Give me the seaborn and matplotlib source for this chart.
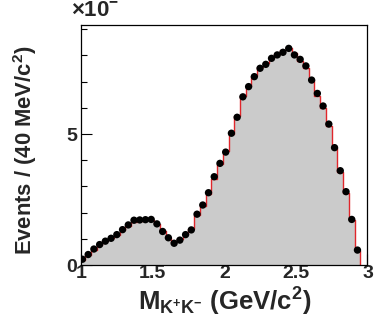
import numpy as np
import pandas as pd
import matplotlib
matplotlib.use("Agg")
import matplotlib.pyplot as plt
from matplotlib.ticker import MultipleLocator
import seaborn as sns

# Bin centres of the K+K- invariant mass (GeV/c^2), 40 MeV bins
mass = [1.01, 1.05, 1.09, 1.13, 1.17, 1.21, 1.25, 1.29, 1.33, 1.37,
        1.41, 1.45, 1.49, 1.53, 1.57, 1.61, 1.65, 1.69, 1.73, 1.77,
        1.81, 1.85, 1.89, 1.93, 1.97, 2.01, 2.05, 2.09, 2.13, 2.17,
        2.21, 2.25, 2.29, 2.33, 2.37, 2.41, 2.45, 2.49, 2.53, 2.57,
        2.61, 2.65, 2.69, 2.73, 2.77, 2.81, 2.85, 2.89, 2.93]

# Measured events per bin (in units of the axis multiplier)
events = [0.22, 0.40, 0.61, 0.78, 0.91, 1.02, 1.16, 1.35, 1.53, 1.71,
          1.72, 1.73, 1.74, 1.57, 1.28, 1.04, 0.83, 0.95, 1.16, 1.34,
          1.94, 2.29, 2.76, 3.37, 3.88, 4.31, 5.03, 5.64, 6.42, 6.81,
          7.19, 7.51, 7.66, 7.89, 8.02, 8.12, 8.27, 8.02, 7.85, 7.60,
          7.06, 6.55, 6.07, 5.38, 4.48, 3.60, 2.80, 1.74, 0.57]

# Simulated (MC) shape per bin
mc = [0.20, 0.38, 0.58, 0.76, 0.92, 1.04, 1.15, 1.33, 1.50, 1.66,
      1.68, 1.70, 1.70, 1.58, 1.30, 1.05, 0.86, 0.98, 1.18, 1.37,
      1.90, 2.24, 2.70, 3.30, 3.85, 4.35, 5.00, 5.70, 6.45, 6.85,
      7.20, 7.55, 7.72, 7.92, 8.05, 8.20, 8.30, 8.10, 7.80, 7.52,
      7.05, 6.45, 6.00, 5.30, 4.45, 3.55, 2.75, 1.70, 0.55]

x_ticks = [1, 1.5, 2, 2.5, 3]
x_tick_labels = ["1", "1.5", "2", "2.5", "3"]
y_ticks = [0, 5]
y_tick_labels = ["0", "5"]

bin_width = 0.04
lo = round(mass[0] - bin_width / 2, 3)
hi = round(mass[-1] + bin_width / 2, 3)
df = pd.DataFrame({"mass": mass, "events": events, "mc": mc})

sns.set_style("ticks")
plt.rcParams["font.family"] = ["Liberation Sans", "DejaVu Sans"]
plt.rcParams["font.weight"] = "bold"
plt.rcParams["axes.labelweight"] = "bold"
plt.rcParams["mathtext.fontset"] = "custom"
plt.rcParams["mathtext.rm"] = "Liberation Sans:bold"
plt.rcParams["mathtext.it"] = "Liberation Sans:bold"
plt.rcParams["mathtext.bf"] = "Liberation Sans:bold"
plt.rcParams["mathtext.sf"] = "Liberation Sans:bold"
plt.rcParams["mathtext.default"] = "bf"

fig = plt.figure(figsize=(3.74, 3.22), dpi=100)
ax = fig.add_axes([0.2166, 0.177, 0.7660, 0.746])

# MC histogram: grey fill with a red outline
sns.histplot(data=df, x="mass", weights="mc", binwidth=bin_width,
             binrange=(lo, hi), element="step", fill=True,
             color="#cbcbcb", alpha=1.0, linewidth=0, ax=ax)
sns.histplot(data=df, x="mass", weights="mc", binwidth=bin_width,
             binrange=(lo, hi), element="step", fill=False,
             color="#e0262b", linewidth=1.0, ax=ax)
ax.plot([hi, hi], [0, mc[-1]], color="#e0262b", lw=1.0)

# Data points
sns.scatterplot(data=df, x="mass", y="events", color="black", s=28,
                edgecolor="none", ax=ax, zorder=5)

ax.set_xlim(1, 3)
ax.set_ylim(0, 9.17)
ax.set_xticks(x_ticks)
ax.set_xticklabels(x_tick_labels, fontweight="bold", fontsize=14)
ax.set_yticks(y_ticks)
ax.set_yticklabels(y_tick_labels, fontweight="bold", fontsize=14)
ax.xaxis.set_minor_locator(MultipleLocator(0.1))
ax.yaxis.set_minor_locator(MultipleLocator(1))
ax.tick_params(which="both", direction="in", top=False, right=False,
               width=0.8, color="black")
ax.tick_params(which="major", length=8)
ax.tick_params(axis="x", which="major", pad=0)
ax.tick_params(axis="y", which="major", pad=3)
ax.tick_params(which="minor", length=4)
for s in ax.spines.values():
    s.set_linewidth(0.9)
    s.set_color("black")

ax.set_xlabel(r"M$_{K^{+}K^{-}}$ (GeV/c$^{2}$)", fontsize=18.5,
              fontweight="bold", labelpad=3)
ax.set_ylabel(r"Events / (40 MeV/c$^{2}$)", fontsize=15.8,
              fontweight="bold")
ax.yaxis.set_label_coords(-0.145, 0.48)
fig.text(0.19, 0.935, r"$\times$10$^{-}$", fontsize=16, fontweight="bold",
         ha="left", va="bottom")

fig.savefig("out.png", dpi=100)
